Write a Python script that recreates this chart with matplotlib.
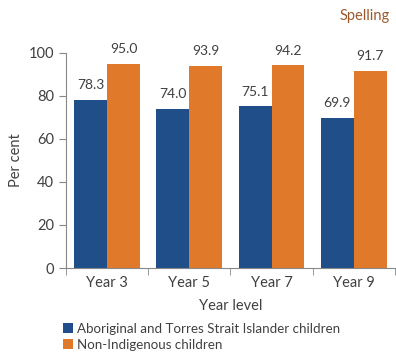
import matplotlib.pyplot as plt
import numpy as np

categories = ["Year 3", "Year 5", "Year 7", "Year 9"]
indigenous = [78.3, 74.0, 75.1, 69.9]
non_indigenous = [95.0, 93.9, 94.2, 91.7]
series_names = ["Aboriginal and Torres Strait Islander children", "Non-Indigenous children"]

plt.rcParams['font.family'] = ['Lato', 'DejaVu Sans']
txt = '#404040'
fig = plt.figure(figsize=(3.96, 3.55), dpi=100)
ax = fig.add_axes([0.1667, 0.245, 0.8303, 0.606])

x = np.arange(len(categories))
w = 0.4
b1 = ax.bar(x - w/2, indigenous, w, color='#1F4E89', label=series_names[0])
b2 = ax.bar(x + w/2, non_indigenous, w, color='#E07A2A', label=series_names[1])
for bars, vals in ((b1, indigenous), (b2, non_indigenous)):
    for r, v in zip(bars, vals):
        ax.text(r.get_x() + r.get_width()/2, v + 4, f"{v:.1f}", ha='center', va='bottom',
                fontsize=10, color=txt)

ax.set_xlim(-0.5, len(categories) - 0.5)
ax.set_ylim(0, 100)
ax.set_yticks([0, 20, 40, 60, 80, 100])
ax.set_xticks(x)
ax.set_xticklabels(categories)
ax.set_xticks(np.arange(-0.5, len(categories)), minor=True)
ax.tick_params(axis='x', which='major', length=0, labelsize=10.5, colors=txt, pad=6)
ax.tick_params(axis='x', which='minor', length=5, color='#888888', direction='out')
ax.tick_params(axis='y', length=5, color='#888888', labelsize=10.5, colors=txt)
for s in ['top', 'right']:
    ax.spines[s].set_visible(False)
for s in ['left', 'bottom']:
    ax.spines[s].set_color('#888888')
ax.set_ylabel("Per cent", fontsize=10.5, color=txt)
ax.set_xlabel("Year level", fontsize=10.5, color=txt, labelpad=6)

fig.text(0.985, 0.955, "Spelling", ha='right', va='center', fontsize=10.5, color='#9C5A2C')
fig.legend(handles=[b1, b2], loc='upper left', bbox_to_anchor=(0.16, 0.091), frameon=False,
           fontsize=9.6, labelcolor=txt, handlelength=0.7, handleheight=0.7, handletextpad=0.3,
           labelspacing=0.3, borderaxespad=0, borderpad=0)
fig.savefig("out.png", dpi=100)
